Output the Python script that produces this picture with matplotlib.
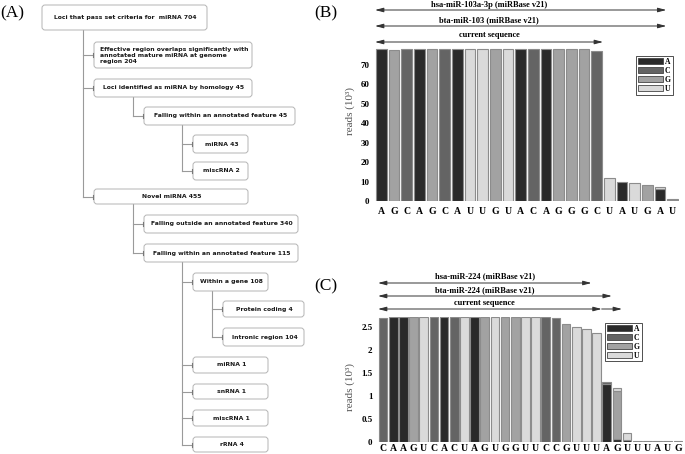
import matplotlib
matplotlib.use("Agg")
import matplotlib.pyplot as plt
import matplotlib.transforms as mtransforms
import numpy as np
from matplotlib.patches import FancyBboxPatch, Patch

# ---- panel A: annotation tree ----
node_labels = [
    "Loci that pass set criteria for  miRNA 704",
    "Effective region overlaps significantly with\nannotated mature miRNA at genome\nregion 204",
    "Loci identified as miRNA by homology 45",
    "Falling within an annotated feature 45",
    "miRNA 43",
    "miscRNA 2",
    "Novel miRNA 455",
    "Falling outside an annotated feature 340",
    "Falling within an annotated feature 115",
    "Within a gene 108",
    "Protein coding 4",
    "Intronic region 104",
    "miRNA 1",
    "snRNA 1",
    "miscRNA 1",
    "rRNA 4",
]
node_parent = [None, 0, 0, 2, 3, 3, 0, 6, 6, 8, 9, 9, 8, 8, 8, 8]

# box layout in figure pixels (x0, y0, x1, y1), y downward
box_px = [
    (42, 5, 207, 30), (94, 42, 252, 68), (94, 79, 252, 97), (144, 107, 295, 125),
    (193, 135, 248, 153), (193, 162, 248, 180), (94, 189, 248, 204),
    (144, 215, 298, 233), (144, 244, 298, 262), (193, 273, 268, 291),
    (223, 301, 304, 317), (223, 328, 304, 346), (193, 357, 268, 373),
    (193, 384, 268, 399), (193, 410, 268, 426), (193, 437, 268, 452),
]

# ---- panel B: hsa-miR-103 reads (10^3) by nucleotide ----
b_seq = list("AGCAGCAUUGUACAGGGCUAUGAU")
b_A = [78.2, 0, 0, 78.2, 0, 0, 78.2, 0, 0, 0, 0, 78.2, 0, 78.2, 0, 0, 0, 0, 0, 9.6, 0, 0, 6.0, 0]
b_C = [0, 0, 78.0, 0, 0, 78.0, 0, 0, 0, 0, 0, 0, 78.0, 0, 0, 0, 0, 77.4, 0, 0, 0, 0.2, 0, 0.6]
b_G = [0, 77.8, 0, 0, 78.0, 0, 0, 0, 0, 78.0, 0, 0, 0, 0, 78.0, 78.0, 78.0, 0, 0, 0, 0, 7.8, 0, 0]
b_U = [0, 0, 0, 0, 0, 0, 0, 78.3, 78.3, 0, 78.2, 0, 0, 0, 0, 0, 0, 0, 12.0, 0, 9.4, 0, 1.2, 0.3]
b_arrows = [("hsa-miR-103a-3p (miRBase v21)", 22.5),
            ("bta-miR-103 (miRBase v21)", 22.5),
            ("current sequence", 17.5)]

# ---- panel C: hsa-miR-224 reads (10^3) by nucleotide ----
c_seq = list("CAAGUCACUAGUGGUUCCGUUUAGUUUAUG")
c_A = [0, 2.71, 2.71, 0, 0, 0, 2.71, 0, 0, 2.71, 0, 0, 0, 0, 0, 0, 0, 0, 0, 0, 0, 0,
       1.26, 0.05, 0.03, 0, 0, 0.005, 0, 0]
c_C = [2.68, 0, 0, 0, 0, 2.71, 0, 2.71, 0, 0, 0, 0, 0, 0, 0, 0, 2.71, 2.68, 0, 0, 0, 0,
       0.03, 0, 0, 0, 0, 0, 0, 0]
c_G = [0, 0, 0, 2.71, 0, 0, 0, 0, 0, 0, 2.71, 0, 2.71, 2.71, 0, 0, 0, 0, 2.55, 0, 0, 0,
       0, 1.05, 0, 0, 0, 0, 0, 0.005]
c_U = [0, 0, 0, 0, 2.71, 0, 0, 0, 2.71, 0, 0, 2.71, 0, 0, 2.71, 2.71, 0, 0, 0, 2.49, 2.46, 2.37,
       0, 0.06, 0.17, 0.015, 0.015, 0, 0.005, 0]
c_arrows = [("hsa-miR-224 (miRBase v21)", 20.5),
            ("bta-miR-224 (miRBase v21)", 22.5),
            ("current sequence", 21.5)]

nt_names = ["A", "C", "G", "U"]
nt_colors = ["#2a2a2a", "#646464", "#a2a2a2", "#dadada"]
SERIF = "Liberation Serif"


def draw_tree(bg):
    for i, (x0, y0, x1, y1) in enumerate(box_px):
        bg.add_patch(FancyBboxPatch((x0, y0), x1 - x0, y1 - y0,
                                    boxstyle="round,pad=0,rounding_size=3",
                                    fc="white", ec="#b4b4b4", lw=0.7, zorder=3))
        if "\n" in node_labels[i]:
            bg.text(x0 + 6, (y0 + y1) / 2, node_labels[i], ha="left", va="center",
                    fontsize=4.4, fontweight="bold", color="#1a1a1a",
                    linespacing=1.25, zorder=4)
        else:
            bg.text((x0 + x1) / 2 + 1, (y0 + y1) / 2, node_labels[i], ha="center",
                    va="center", fontsize=4.4, fontweight="bold", color="#1a1a1a", zorder=4)
    for p in range(len(node_labels)):
        kids = [k for k, q in enumerate(node_parent) if q == p]
        if not kids:
            continue
        trunk = box_px[kids[0]][0] - 11
        last_mid = (box_px[kids[-1]][1] + box_px[kids[-1]][3]) / 2
        bg.plot([trunk, trunk], [box_px[p][3], last_mid], color="#9a9a9a", lw=0.8, zorder=2)
        for k in kids:
            ym = (box_px[k][1] + box_px[k][3]) / 2
            bg.plot([trunk, box_px[k][0]], [ym, ym], color="#9a9a9a", lw=0.8, zorder=2)
            bg.plot([box_px[k][0] - 1, box_px[k][0] - 1], [ym - 2, ym + 2],
                    color="#777777", lw=0.8, zorder=4)


def draw_reads(ax, seq, comp, yticks, ylim, legend_anchor, xpad, label_xy):
    x = np.arange(len(seq))
    bottom = np.zeros(len(seq))
    for name, vals, col in zip(nt_names, comp, nt_colors):
        vals = np.array(vals, dtype=float)
        keep = vals > 0
        ax.bar(x[keep], vals[keep], bottom=bottom[keep], width=0.85,
               color=col, edgecolor="#8c8c8c", linewidth=0.8)
        bottom += vals
    ax.set_xlim(-0.5, len(seq) - 0.5)
    ax.set_ylim(*ylim)
    ax.set_xticks(x)
    ax.set_xticklabels(seq, fontfamily=SERIF, fontweight="bold", fontsize=7)
    ax.set_yticks(yticks)
    ax.set_yticklabels([f"{t:g}" for t in yticks], fontfamily=SERIF,
                       fontweight="bold", fontsize=6.5)
    ax.tick_params(axis="y", length=0, pad=4)
    ax.tick_params(axis="x", length=0, pad=xpad)
    for s in ax.spines.values():
        s.set_visible(False)
    ax.set_ylabel("reads (10³)", fontfamily=SERIF, fontsize=8, color="#555555")
    ax.yaxis.set_label_coords(*label_xy)
    handles = [Patch(fc=c, ec="#444444", lw=0.6, label=n) for n, c in zip(nt_names, nt_colors)]
    leg = ax.legend(handles=handles, loc="upper right", bbox_to_anchor=legend_anchor,
                    frameon=True, fancybox=False, edgecolor="#333333", framealpha=1,
                    prop={"family": SERIF, "weight": "bold", "size": 5.5},
                    handlelength=3.2, handleheight=0.9, handletextpad=0.3,
                    labelspacing=0.12, borderpad=0.25, borderaxespad=0)
    leg.get_frame().set_linewidth(0.6)


def draw_spans(bg, ax, spans, start, arrow_y, text_y, text_x, extra=None):
    mixed = mtransforms.blended_transform_factory(ax.transData, bg.transData)
    for (label, end), ya, yt in zip(spans, arrow_y, text_y):
        bg.annotate("", xy=(end, ya), xytext=(start, ya),
                    xycoords=mixed, textcoords=mixed,
                    arrowprops=dict(arrowstyle="<|-|>,head_length=0.5,head_width=0.13",
                                    color="#333333", lw=0.7, shrinkA=0, shrinkB=0))
        bg.text(text_x, yt, label, transform=mixed, ha="center", va="center",
                fontfamily=SERIF, fontweight="bold", fontsize=6)
    if extra is not None:
        x0, x1, ya = extra
        bg.annotate("", xy=(x1, ya), xytext=(x0, ya),
                    xycoords=mixed, textcoords=mixed,
                    arrowprops=dict(arrowstyle="-|>,head_length=0.5,head_width=0.13",
                                    color="#333333", lw=0.7, shrinkA=0, shrinkB=0))


def main() -> None:
    W, H = 685, 454
    fig = plt.figure(figsize=(W / 100, H / 100), dpi=100)
    bg = fig.add_axes([0, 0, 1, 1])
    bg.set_xlim(0, W)
    bg.set_ylim(H, 0)
    bg.axis("off")

    for lab, (px, py) in zip(["(A)", "(B)", "(C)"], [(0, 13), (314, 13), (314, 286)]):
        bg.text(px, py, lab, ha="left", va="center", fontfamily=SERIF, fontsize=12.5)

    draw_tree(bg)

    axB = fig.add_axes([375 / W, (H - 201) / H, 304 / W, 153.5 / H])
    draw_reads(axB, b_seq, [b_A, b_C, b_G, b_U], [0, 10, 20, 30, 40, 50, 60, 70],
               (0, 79), (0.98, 0.945), 4, (-0.066, 0.586))
    draw_spans(bg, axB, b_arrows, -0.5, [10, 26, 42], [5, 20, 35], 8.5)

    axC = fig.add_axes([378 / W, (H - 441.7) / H, 305 / W, 125.1 / H])
    draw_reads(axC, c_seq, [c_A, c_C, c_G, c_U], [0, 0.5, 1, 1.5, 2, 2.5],
               (0, 2.72), (0.865, 0.95), 1.5, (-0.075, 0.437))
    draw_spans(bg, axC, c_arrows, -0.5, [283, 296, 309], [276, 290, 303], 10.0,
               extra=(21.5, 23.5, 309))

    fig.savefig("out.png", dpi=100)
    plt.close(fig)


if __name__ == "__main__":
    main()
